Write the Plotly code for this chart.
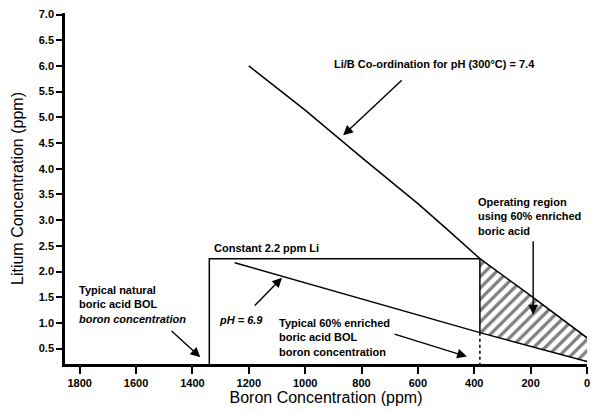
import plotly.graph_objects as go

# --- data ---
ph74_boron = [1200, 1000, 800, 600, 500, 400, 380, 200, 0]
ph74_li = [6.0, 5.14, 4.22, 3.32, 2.84, 2.36, 2.25, 1.53, 0.71]

ph69_boron = [1250, 800, 380, 0]
ph69_li = [2.17, 1.47, 0.81, 0.25]

const_li = 2.25           # "Constant 2.2 ppm Li" line level
natural_bol = 1340        # typical natural boric acid BOL boron
enriched_bol = 380        # typical 60% enriched boric acid BOL boron

x_ticks = [1800, 1600, 1400, 1200, 1000, 800, 600, 400, 200, 0]
y_ticks = [0.5, 1.0, 1.5, 2.0, 2.5, 3.0, 3.5, 4.0, 4.5, 5.0, 5.5, 6.0, 6.5, 7.0]

Y_MIN = 0.2
FONT = "Liberation Sans"

fig = go.Figure()

# hatched operating region between pH 7.4 and pH 6.9 lines for boron <= enriched BOL
top_b = [b for b in ph74_boron if b <= enriched_bol]
top_l = [l for b, l in zip(ph74_boron, ph74_li) if b <= enriched_bol]
bot_b = [b for b in ph69_boron if b <= enriched_bol]
bot_l = [l for b, l in zip(ph69_boron, ph69_li) if b <= enriched_bol]
fig.add_trace(go.Scatter(
    x=top_b + bot_b[::-1], y=top_l + bot_l[::-1],
    mode="none", fill="toself", fillcolor="rgba(0,0,0,0)",
    fillpattern=dict(shape="/", fgcolor="black", bgcolor="white", size=8, solidity=0.4),
    hoverinfo="skip", showlegend=False))

# pH 7.4 co-ordination line
fig.add_trace(go.Scatter(x=ph74_boron, y=ph74_li, mode="lines",
                         line=dict(color="black", width=1.5), showlegend=False))
# pH 6.9 line
fig.add_trace(go.Scatter(x=ph69_boron, y=ph69_li, mode="lines",
                         line=dict(color="black", width=1.5), showlegend=False))

# constant Li box
li_at_enriched = bot_l[0]
fig.add_trace(go.Scatter(
    x=[natural_bol, natural_bol, enriched_bol, enriched_bol],
    y=[Y_MIN, const_li, const_li, li_at_enriched],
    mode="lines", line=dict(color="black", width=1.5), showlegend=False))
# dotted drop to axis at enriched BOL
fig.add_trace(go.Scatter(
    x=[enriched_bol, enriched_bol], y=[li_at_enriched, Y_MIN],
    mode="lines", line=dict(color="black", width=1.5, dash="dot"), showlegend=False))

tf = dict(family=FONT, size=11, color="black", weight="bold")

texts = [
    dict(x=904, y=6.04, text="Li/B Co-ordination for pH (300°C) = 7.4", yanchor="middle"),
    dict(x=394, y=3.50, text="Operating region<br>using 60% enriched<br>boric acid", yanchor="top"),
    dict(x=1330, y=2.46, text="Constant 2.2 ppm Li", yanchor="middle"),
    dict(x=1312, y=1.06, text="<i>pH = 6.9</i>", yanchor="middle"),
    dict(x=1099, y=1.15, text="Typical 60% enriched<br>boric acid BOL<br>boron concentration", yanchor="top"),
    dict(x=1809, y=1.80, text="Typical natural<br>boric acid BOL<br><i>boron concentration</i>", yanchor="top"),
]
annotations = []
for t in texts:
    annotations.append(dict(x=t["x"], y=t["y"], xref="x", yref="y", text=t["text"],
                            showarrow=False, xanchor="left", yanchor=t["yanchor"],
                            align="left", font=tf))

arrows = [
    ((652, 5.75), (865, 4.65)),
    ((191, 2.62), (191, 1.16)),
    ((1184, 1.31), (1082, 1.88)),
    ((688, 0.79), (426, 0.345)),
    ((1479, 0.87), (1372, 0.33)),
]
for (tx, ty), (hx, hy) in arrows:
    annotations.append(dict(x=hx, y=hy, ax=tx, ay=ty, xref="x", yref="y",
                            axref="x", ayref="y", text="", showarrow=True,
                            arrowhead=2, arrowsize=1.4, arrowwidth=1.4,
                            arrowcolor="black", standoff=0))

fig.update_layout(
    width=595, height=413,
    margin=dict(l=65, r=8, t=13, b=49, autoexpand=False),
    paper_bgcolor="white", plot_bgcolor="white",
    annotations=annotations,
    font=dict(family=FONT, color="black"),
    xaxis=dict(range=[1852, 0], tickvals=x_ticks, ticktext=[str(v) for v in x_ticks],
               automargin=False,
               showgrid=False, zeroline=False, showline=True, linecolor="black", linewidth=2.5,
               ticks="outside", ticklen=7, tickwidth=2, tickcolor="black",
               tickfont=tf,
               title=dict(text="Boron Concentration (ppm)", font=dict(family=FONT, size=16, color="black"),
                          standoff=4)),
    yaxis=dict(range=[Y_MIN, 7.03], tickvals=y_ticks, ticktext=[f"{v:.1f}" for v in y_ticks],
               automargin=False,
               showgrid=False, zeroline=False, showline=True, linecolor="black", linewidth=2.5,
               ticks="outside", ticklen=6, tickwidth=2, tickcolor="black",
               tickfont=tf,
               title=dict(text="Litium Concentration (ppm)", font=dict(family=FONT, size=16, color="black"),
                          standoff=12)),
)

# remove the default page margin so the 595x413 figure fills the window exactly
fig.write_html("out.html",
               config={"displayModeBar": False},
               post_script="document.body.style.margin='0';document.body.style.overflow='hidden';")
